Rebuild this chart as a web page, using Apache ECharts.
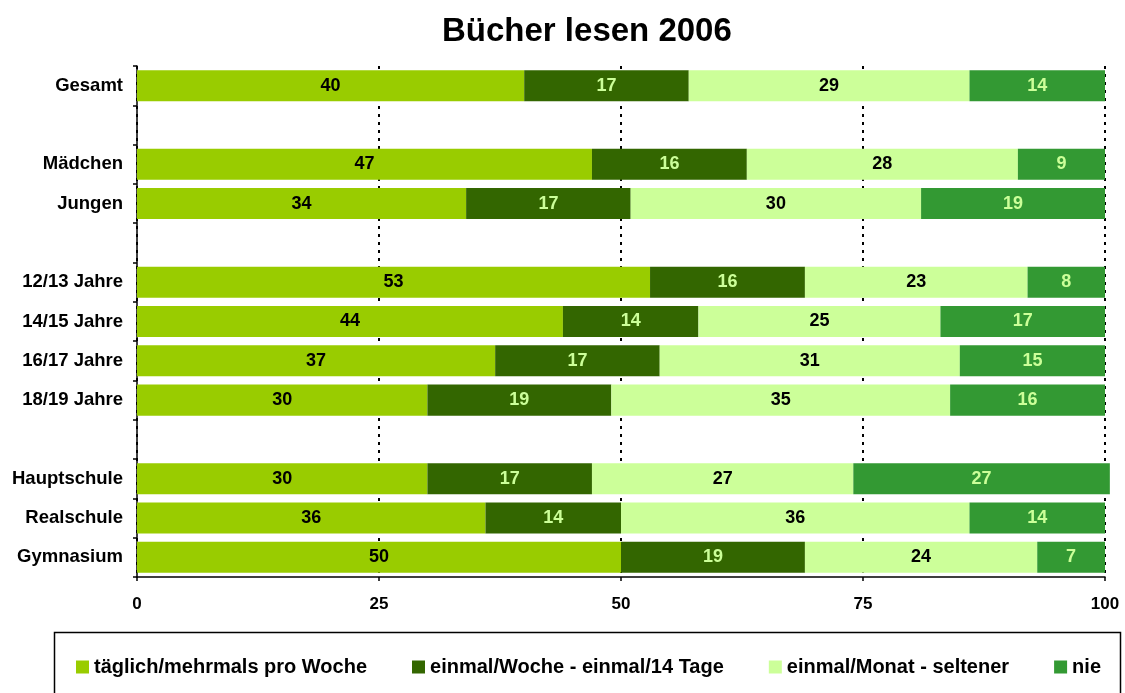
<!DOCTYPE html>
<html>
<head>
<meta charset="utf-8">
<script src="https://cdn.jsdelivr.net/npm/echarts@6/dist/echarts.min.js"></script>
<style>html,body{margin:0;padding:0;background:#fff}#c{width:1125px;height:693px}</style>
</head>
<body>
<div id="c"></div>
<script>
const categories = ['Gesamt', '', 'Mädchen', 'Jungen', ' ', '12/13 Jahre', '14/15 Jahre', '16/17 Jahre', '18/19 Jahre', '  ', 'Hauptschule', 'Realschule', 'Gymnasium'];
const seriesNames = ['täglich/mehrmals pro Woche', 'einmal/Woche - einmal/14 Tage', 'einmal/Monat - seltener', 'nie'];
const taeglich = [40, null, 47, 34, null, 53, 44, 37, 30, null, 30, 36, 50];
const woechentlich = [17, null, 16, 17, null, 16, 14, 17, 19, null, 17, 14, 19];
const monatlich = [29, null, 28, 30, null, 23, 25, 31, 35, null, 27, 36, 24];
const nie = [14, null, 9, 19, null, 8, 17, 15, 16, null, 26.5, 14, 7];
const xTicks = [0, 25, 50, 75, 100];

const colors = ['#99CC00', '#336600', '#CCFF99', '#339933'];
const labelColors = ['#000000', '#CCFF99', '#000000', '#CCFF99'];
const dataSets = [taeglich, woechentlich, monatlich, nie];
const font = 'Liberation Sans, Arial, sans-serif';

const chart = echarts.init(document.getElementById('c'), null, {renderer: 'canvas'});
chart.setOption({
  animation: false,
  backgroundColor: '#fff',
  title: {
    text: 'Bücher lesen 2006',
    left: 437, top: 10,
    textStyle: {fontFamily: font, fontWeight: 'bold', fontSize: 33, color: '#000'}
  },
  grid: {left: 137, right: 20, top: 66, bottom: 116, containLabel: false},
  legend: {
    left: 71, top: 652,
    itemWidth: 13, itemHeight: 13, itemGap: 45,
    icon: 'rect',
    data: seriesNames,
    textStyle: {fontFamily: font, fontWeight: 'bold', fontSize: 20, color: '#000'}
  },
  graphic: [{
    type: 'rect', left: 52, top: 630,
    shape: {width: 1066, height: 100},
    style: {fill: 'none', stroke: '#000', lineWidth: 1.5},
    silent: true
  }],
  xAxis: {
    type: 'value', min: 0, max: 100, interval: 25,
    axisLine: {show: true, lineStyle: {color: '#000', width: 1.5}},
    axisTick: {show: true, length: 4, lineStyle: {color: '#000', width: 1.5}},
    axisLabel: {
      margin: 19, color: '#000', fontFamily: font, fontWeight: 'bold', fontSize: 17,
      formatter: v => xTicks.includes(v) ? String(v) : ''
    },
    splitLine: {show: true, lineStyle: {color: '#000', width: 2, type: [3, 5]}}
  },
  yAxis: {
    type: 'category', inverse: true, data: categories,
    axisLine: {show: true, lineStyle: {color: '#000', width: 1.5}},
    axisTick: {show: true, length: 4, lineStyle: {color: '#000', width: 1.5}},
    axisLabel: {margin: 14, color: '#000', fontFamily: font, fontWeight: 'bold', fontSize: 18.5}
  },
  series: dataSets.map((d, i) => ({
    name: seriesNames[i],
    type: 'bar',
    stack: 'total',
    data: d,
    clip: false,
    barCategoryGap: '21%',
    itemStyle: {color: colors[i]},
    label: {
      show: true, position: 'inside',
      color: labelColors[i], fontFamily: font, fontWeight: 'bold', fontSize: 18,
      formatter: p => p.value == null ? '' : String(Math.round(p.value))
    }
  }))
});
</script>
</body>
</html>
